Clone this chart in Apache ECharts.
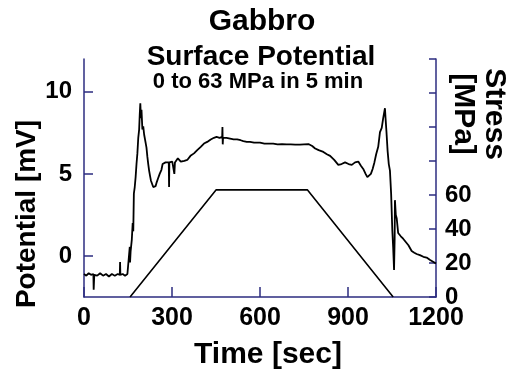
<!DOCTYPE html>
<html>
<head>
<meta charset="utf-8">
<script src="https://cdn.jsdelivr.net/npm/echarts@6/dist/echarts.min.js"></script>
<style>html,body{margin:0;padding:0;background:#fff;}#chart{width:512px;height:371px;}</style>
</head>
<body>
<div id="chart"></div>
<script>
var titleText = 'Gabbro';
var subtitleText = 'Surface Potential';
var noteText = '0 to 63 MPa in 5 min';
var xAxisName = 'Time [sec]';
var leftAxisName = 'Potential [mV]';
var rightAxisName = 'Stress\n[MPa]';
var leftTicks = [0, 5, 10];
var rightLabelMax = 60;

// Surface potential [mV] vs time [sec]
var potential = [
  [0,-1.1],[8,-1.2],[16,-1.05],[24,-1.15],[32,-1.1],[33,-2.05],[35,-1.15],[45,-1.2],[55,-1.05],[65,-1.2],
  [75,-1.1],[85,-1.25],[95,-1.1],[105,-1.2],[115,-1.1],[122,-1.15],[123,-0.37],[124,-1.15],[132,-1.1],[140,-1.2],
  [148,-1.1],[154,-1.15],[156,0.55],[157,-0.4],[159,0.3],[163,1.0],[166,2.0],[168,1.5],[170,3.8],[173,4.2],
  [176,4.8],[179,5.6],[182,6.25],[185,7.2],[188,7.7],[190,8.6],[192,9.3],[194,8.4],[196,8.9],[199,7.7],
  [202,7.9],[205,7.4],[208,7.5],[210,6.9],[213,6.6],[216,6.05],[219,5.6],[222,5.2],[225,4.9],[228,4.6],
  [232,4.4],[236,4.2],[240,4.3],[244,4.25],[248,4.5],[252,4.7],[258,5.0],[264,5.25],[268,5.6],[272,5.65],
  [278,5.7],[284,5.75],[289,5.7],[290,4.2],[291,5.7],[296,5.8],[301,5.75],[306,5.65],[308,5.0],[310,5.7],
  [315,5.8],[320,5.95],[324,5.9],[330,5.75],[335,5.75],[342,5.8],[352,5.85],[363,6.1],[375,6.25],[386,6.45],
  [398,6.65],[409,6.85],[420,6.95],[432,7.1],[443,7.2],[452,7.25],[462,7.2],[471,7.25],[472,7.85],[473,6.8],
  [474,7.2],[486,7.2],[498,7.15],[510,7.1],[522,7.1],[534,7.05],[543,7.0],[555,6.95],[566,6.95],[580,6.9],
  [600,6.9],[615,6.85],[630,6.85],[645,6.85],[660,6.8],[675,6.82],[691,6.8],[705,6.8],[720,6.78],[736,6.78],
  [750,6.8],[765,6.82],[778,6.7],[788,6.55],[800,6.45],[816,6.34],[828,6.2],[839,6.1],[853,5.85],[867,5.55],
  [878,5.6],[890,5.7],[902,5.6],[913,5.55],[924,5.7],[935,5.75],[944,5.5],[952,5.3],[960,5.0],[966,4.8],
  [972,4.8],[978,5.0],[984,5.3],[990,5.7],[996,6.2],[1003,6.65],[1009,7.55],[1015,7.8],[1020,8.4],[1024,8.8],
  [1026,9.0],[1028,8.4],[1031,7.6],[1035,6.4],[1039,5.6],[1043,5.2],[1047,3.8],[1051,1.6],[1054,0.5],[1057,-0.85],
  [1059,1.0],[1060,3.4],[1063,2.5],[1066,2.3],[1071,1.4],[1080,1.2],[1088,1.05],[1097,0.85],[1106,0.65],[1117,0.3],
  [1126,0.2],[1134,0.12],[1145,0.05],[1157,-0.05],[1168,-0.1],[1180,-0.25],[1190,-0.35],[1200,-0.46]
];

// Applied stress [MPa] vs time [sec]
var stress = [[157,0],[450,63],[762,63],[1054,0]];

var axisColor = '#2d2d80';
var font = '"Liberation Sans", Arial, Helvetica, sans-serif';

var chart = echarts.init(document.getElementById('chart'), null, {renderer: 'canvas'});
chart.setOption({
  backgroundColor: '#ffffff',
  animation: false,
  grid: {left: 84, right: 76, top: 59, bottom: 74, containLabel: false, outerBoundsMode: 'none'},
  xAxis: {
    type: 'value', min: 0, max: 1200, interval: 300,
    axisLine: {show: true, onZero: false, lineStyle: {color: axisColor, width: 1.5}},
    axisTick: {show: true, inside: true, length: 10, lineStyle: {color: axisColor, width: 1.5}},
    axisLabel: {color: '#000', fontFamily: font, fontWeight: 'bold', fontSize: 25, margin: 9, showMinLabel: true, showMaxLabel: true,
      formatter: function (v) { return String(v); }},
    splitLine: {show: false}
  },
  yAxis: [{
    type: 'value', min: -2.5, max: 12, position: 'left',
    axisLine: {show: true, onZero: false, lineStyle: {color: axisColor, width: 1.5}},
    axisTick: {show: true, inside: true, length: 9, customValues: leftTicks, lineStyle: {color: axisColor, width: 1.5}},
    axisLabel: {color: '#000', fontFamily: font, fontWeight: 'bold', fontSize: 24, margin: 12, customValues: leftTicks},
    splitLine: {show: false}
  }, {
    type: 'value', min: 0, max: 140, interval: 20, position: 'right',
    axisLine: {show: true, onZero: false, lineStyle: {color: axisColor, width: 1.5}},
    axisTick: {show: true, inside: true, length: 7, lineStyle: {color: axisColor, width: 1.5}},
    axisLabel: {color: '#000', fontFamily: font, fontWeight: 'bold', fontSize: 24, margin: 9,
      showMaxLabel: true,
      formatter: function (v) { return v <= rightLabelMax ? String(v) : ''; }},
    splitLine: {show: false}
  }],
  series: [{
    type: 'line', yAxisIndex: 0, data: potential, showSymbol: false, symbol: 'none',
    lineStyle: {color: '#000', width: 1.8}, z: 3
  }, {
    type: 'line', yAxisIndex: 1, data: stress, showSymbol: false, symbol: 'none',
    lineStyle: {color: '#000', width: 1.6}, z: 2
  }],
  graphic: [
    {type: 'text', x: 262, y: 22, style: {text: titleText, fill: '#000', font: 'bold 30px ' + font, textAlign: 'center', textVerticalAlign: 'middle'}},
    {type: 'text', x: 261, y: 57, style: {text: subtitleText, fill: '#000', font: 'bold 28px ' + font, textAlign: 'center', textVerticalAlign: 'middle'}},
    {type: 'text', x: 258, y: 82, style: {text: noteText, fill: '#000', font: 'bold 22px ' + font, textAlign: 'center', textVerticalAlign: 'middle'}},
    {type: 'text', x: 268, y: 355, style: {text: xAxisName, fill: '#000', font: 'bold 30px ' + font, textAlign: 'center', textVerticalAlign: 'middle'}},
    {type: 'text', x: 27, y: 214, rotation: Math.PI / 2, style: {text: leftAxisName, fill: '#000', font: 'bold 28px ' + font, textAlign: 'center', textVerticalAlign: 'middle'}},
    {type: 'text', x: 479, y: 114, rotation: -Math.PI / 2, style: {text: rightAxisName, fill: '#000', font: 'bold 30px ' + font, textAlign: 'center', textVerticalAlign: 'middle', lineHeight: 31}}
  ]
});
</script>
</body>
</html>
